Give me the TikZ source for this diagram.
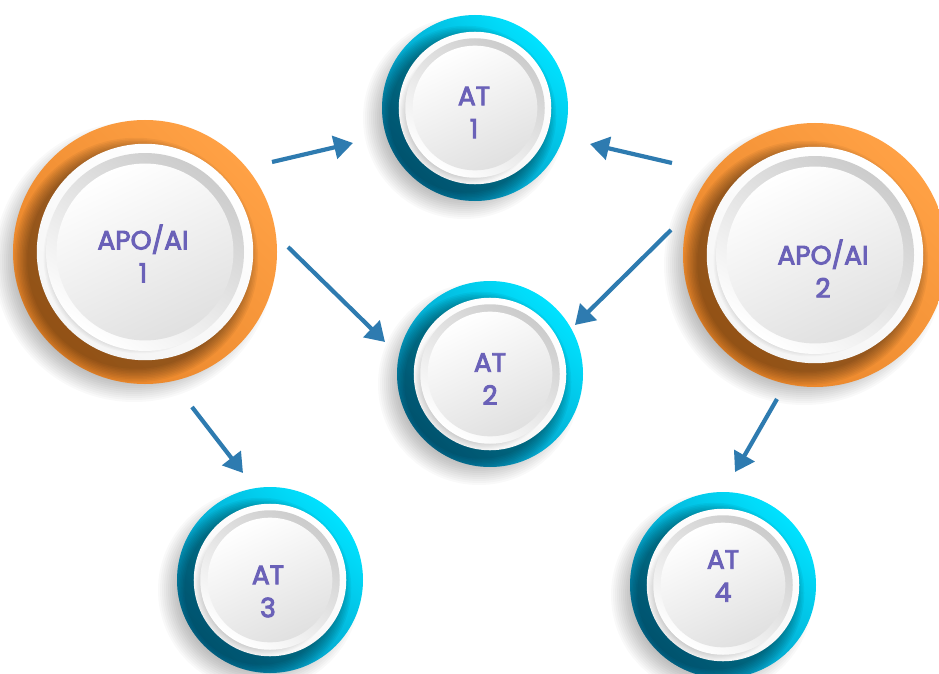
\documentclass[tikz,border=0pt]{standalone}
\usepackage{fontspec}
\newfontfamily\labfont[FakeBold=3.5]{Poppins}
\usetikzlibrary{arrows.meta,calc}
\definecolor{arrowc}{HTML}{2E7BB0}
\definecolor{txtc}{HTML}{6A61B8}
\definecolor{orL}{HTML}{FFA145}
\definecolor{orD}{HTML}{E88428}
\definecolor{cyL}{HTML}{00E2FF}
\definecolor{cyD}{HTML}{0884B0}
\tikzset{
  conn/.style={draw=arrowc, line width=4.2pt, -{Triangle[length=19pt,width=23pt]}},
  lab/.style={align=center, text=txtc, font=\labfont\fontsize{26.5}{33}\selectfont, inner sep=0pt},
  ringnode/.style={circle, inner sep=0pt, draw=none}
}
\newcommand\bubble[5]{%
  \begin{scope}[shift={(#2,#3)}]
    \foreach \k in {0,...,11} \fill[black,opacity=0.022] (-11,10) circle ({(#4+8-2*\k)*1pt});
    \shade[top color=#5L, bottom color=#5D, shading angle=-45] (0,0) circle ({#4*1pt});
    \begin{scope}
      \clip (0,0) circle ({#4*1pt});
      \foreach \k in {0,...,9} \fill[black,opacity=0.045] (-9,8) circle ({(0.82*#4+14-1.5*\k)*1pt});
    \end{scope}
    \shade[top color=white, bottom color=gray!8, shading angle=-30] (0,0) circle ({0.82*#4*1pt});
    \begin{scope}
      \clip (0,0) circle ({0.82*#4*1pt});
      \foreach \k in {0,...,7} \fill[black,opacity=0.025] (-5,5) circle ({(0.67*#4+8-1.2*\k)*1pt});
    \end{scope}
    \shade[top color=gray!40, bottom color=white, shading angle=-35] (0,0) circle ({0.75*#4*1pt});
    \shade[top color=white, bottom color=gray!24, shading angle=25] (0,0) circle ({0.67*#4*1pt});
  \end{scope}
  \node[ringnode, minimum size={2*#4*1pt}] (#1) at (#2,#3) {};
}
\begin{document}
\begin{tikzpicture}[x=1pt,y=-1pt]
\useasboundingbox (0,0) rectangle (939,674);
\clip (0,0) rectangle (939,674);
\fill[white] (0,0) rectangle (939,674);

\bubble{A1}{145}{252}{132}{or}
\bubble{A2}{815}{255}{132}{or}
\bubble{T1}{475}{108}{93}{cy}
\bubble{T2}{490}{374}{93}{cy}
\bubble{T3}{270}{580}{93}{cy}
\bubble{T4}{723}{585}{93}{cy}

\node[lab] (LA1) at (143,253.5) {APO/AI\\1};
\node[lab] (LA2) at (823,268.5) {APO/AI\\2};
\node[lab] (LT1) at (474,112.5) {AT\\1};
\node[lab] (LT2) at (490,379) {AT\\2};
\node[lab] (LT3) at (268,591.5) {AT\\3};
\node[lab] (LT4) at (723,576) {AT\\4};

\coordinate (s1) at (272,162); \coordinate (e1) at (353,143);
\coordinate (s2) at (672,163); \coordinate (e2) at (590,144);
\coordinate (s3) at (288,247); \coordinate (e3) at (385,342);
\coordinate (s4) at (671,230); \coordinate (e4) at (575,325);
\coordinate (s5) at (192,407); \coordinate (e5) at (243,473);
\coordinate (s6) at (777,399); \coordinate (e6) at (735,472);

\draw[conn] (s1) -- (e1);
\draw[conn] (s2) -- (e2);
\draw[conn] (s3) -- (e3);
\draw[conn] (s4) -- (e4);
\draw[conn] (s5) -- (e5);
\draw[conn] (s6) -- (e6);
\end{tikzpicture}
\end{document}
